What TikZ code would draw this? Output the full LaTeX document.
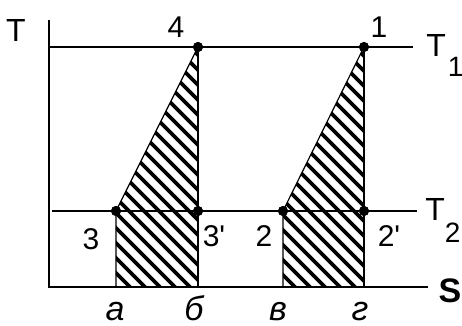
\documentclass[tikz,border=0pt]{standalone}
\usepackage{fontspec}
\setmainfont{Liberation Sans}
\usetikzlibrary{positioning}

\begin{document}
\begin{tikzpicture}[x=0.5pt, y=-0.5pt, font=\fontsize{15}{17}\selectfont]
\tikzset{axis/.style={line width=0.9pt}, iso/.style={line width=0.8pt}, edge/.style={line width=0.6pt}, hatch/.style={line width=1.9pt}, pt/.style={circle, fill=black, inner sep=0pt, minimum size=5pt}, lbl/.style={inner sep=0pt}, sublbl/.style={inner sep=0pt, anchor=base west, font=\fontsize{16}{18}\selectfont}, letter/.style={inner sep=0pt, anchor=base, font=\fontsize{17}{19}\selectfont\itshape}}
\newcommand{\lowsub}[2]{\raisebox{#1}{\fontsize{14}{16}\selectfont #2}}
\useasboundingbox (0,0) rectangle (462,326);
% axes
\coordinate (o) at (49,287);
\coordinate (ty) at (49,20);
\coordinate (sx) at (428,287);
% cycle points
\node[pt] (p4) at (198,47) {};
\node[pt] (p1) at (364,47) {};
\node[pt] (p3) at (116,211) {};
\node[pt] (p3s) at (198,211) {};
\node[pt] (p2) at (283,211) {};
\node[pt] (p2s) at (364,211) {};
\coordinate (a) at (116,287);
\coordinate (b) at (198,287);
\coordinate (v) at (283,287);
\coordinate (g) at (364,287);
% isotherm ends
\coordinate (t1l) at (49,47);
\coordinate (t1r) at (413,47);
\coordinate (t2l) at (52,211);
\coordinate (t2r) at (417,211);
% hatched areas
\begin{scope}
\clip (p3.center) -- (p4.center) -- (b) -- (a) -- cycle (p2.center) -- (p1.center) -- (g) -- (v) -- cycle;
\foreach \c in {-172,-157,...,340} \draw[hatch] (\c,0) -- ++(330,330);
\end{scope}
\draw[edge] (a) -- (p3.center) -- (p4.center);
\draw[edge] (v) -- (p2.center) -- (p1.center);
\draw[iso] (p4) -- (b);
\draw[iso] (p1) -- (g);
\draw[iso] (t1l) -- (t1r);
\draw[iso] (t2l) -- (t2r);
\draw[axis] (ty) -- (o) -- (sx);
\node[pt] at (p4) {};
\node[pt] at (p1) {};
\node[pt] at (p3) {};
\node[pt] at (p3s) {};
\node[pt] at (p2) {};
\node[pt] at (p2s) {};
% labels
\node[lbl, font=\fontsize{16}{18}\selectfont] (tl) at (16,30) {T};
\node[lbl] (l4) at (176,27) {4};
\node[lbl] (l1) at (379,27) {1};
\node[lbl] (l3) at (91,239) {3};
\node[lbl] (l3s) at (214,236) {3\textquotesingle};
\node[lbl] (l2) at (264,236) {2};
\node[lbl] (l2s) at (389,236) {2\textquotesingle};
\node[sublbl] (lt1) at (426,57) {T\hspace{1pt}\lowsub{-10pt}{1}};
\node[sublbl] (lt2) at (425,221) {T\lowsub{-11pt}{2}};
\node[lbl, font=\fontsize{17}{19}\selectfont\bfseries] (ls) at (450,291) {S};
\node[letter] (la) at (115,321) {а};
\node[letter] (lb) at (194,321) {б};
\node[letter] (lv) at (278,321) {в};
\node[letter] (lg) at (360,321) {г};
\end{tikzpicture}
\end{document}
